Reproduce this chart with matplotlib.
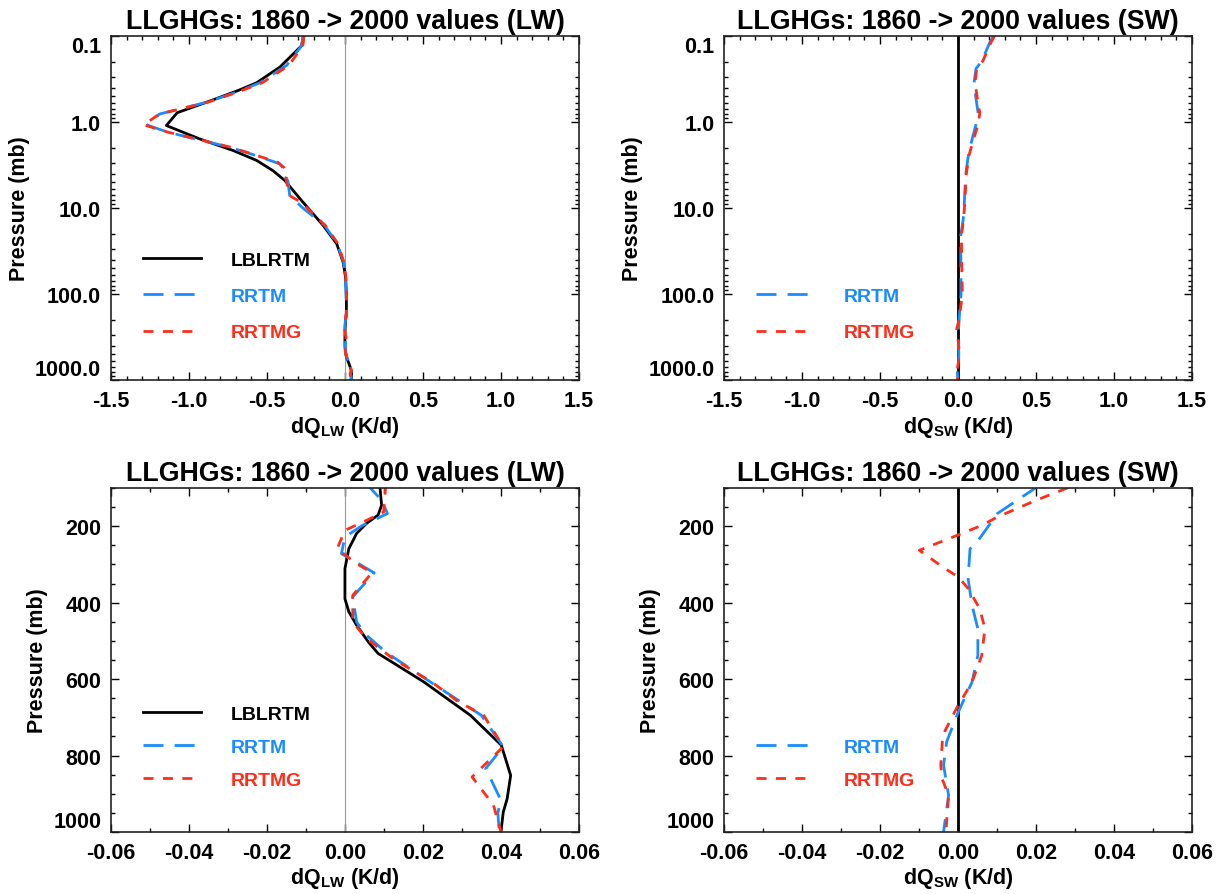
import matplotlib
matplotlib.use('Agg')
import matplotlib.pyplot as plt
from matplotlib.ticker import LogLocator, MultipleLocator, NullFormatter

plt.rcParams['font.family'] = ['Liberation Sans', 'DejaVu Sans']
plt.rcParams['font.weight'] = 'bold'
plt.rcParams['axes.titleweight'] = 'bold'
plt.rcParams['axes.labelweight'] = 'bold'
plt.rcParams['mathtext.fontset'] = 'custom'
plt.rcParams['mathtext.rm'] = 'Liberation Sans'

# longwave heating rate change (K/d) vs pressure (mb)
p_lbl_lw = [0.1, 0.13, 0.23, 0.35, 0.43, 0.57, 0.78, 1.1, 1.58, 2.15, 2.8, 3.7, 4.8, 8.2, 16, 26, 43, 64,
            100, 145, 171, 193, 219, 259, 311, 390, 424, 459, 503, 533, 564, 608, 695, 773, 852, 913, 948, 1000]
dq_lbl_lw = [-0.267, -0.278, -0.417, -0.566, -0.684, -0.865, -1.075, -1.145, -0.929, -0.716, -0.566, -0.46,
             -0.385, -0.278, -0.139, -0.053, -0.011, 0.004, 0.009, 0.0094, 0.0085, 0.0055, 0.003, 0.001, 0.0,
             0.0, 0.001, 0.003, 0.006, 0.0085, 0.0134, 0.0203, 0.0322, 0.0401, 0.0425, 0.0416, 0.0406, 0.040]

p_rrtm_lw = [0.1, 0.13, 0.22, 0.35, 0.45, 0.59, 0.81, 1.09, 1.32, 1.97, 2.47, 3.07, 3.6, 4.2, 4.8, 7.2, 10, 16,
             26, 43, 64, 100, 132, 167, 198, 228, 272, 322, 385, 451, 485, 529, 590, 643, 695, 777, 834, 917,
             950, 1000]
dq_rrtm_lw = [-0.267, -0.278, -0.374, -0.545, -0.694, -0.887, -1.19, -1.266, -1.132, -0.737, -0.566, -0.417,
              -0.39, -0.4, -0.366, -0.354, -0.27, -0.13, -0.05, -0.008, 0.005, 0.0065, 0.0094, 0.0109, 0.0045,
              0.0, -0.0009, 0.0075, 0.002, 0.003, 0.0055, 0.0104, 0.0193, 0.0272, 0.035, 0.0406, 0.0361,
              0.040, 0.0392, 0.0396]

p_rrtmg_lw = [0.1, 0.13, 0.22, 0.35, 0.45, 0.59, 0.81, 1.08, 1.32, 1.97, 2.47, 2.95, 3.4, 3.9, 4.6, 7.2, 8.6,
              16, 26, 43, 64, 100, 163, 185, 211, 259, 298, 322, 381, 451, 494, 547, 608, 660, 695, 777, 856,
              930, 1000]
dq_rrtmg_lw = [-0.262, -0.27, -0.36, -0.53, -0.69, -0.88, -1.19, -1.29, -1.13, -0.73, -0.56, -0.43, -0.39,
               -0.37, -0.378, -0.354, -0.28, -0.125, -0.045, -0.006, 0.006, 0.0104, 0.0099, 0.0055, 0.0,
               -0.002, 0.003, 0.0069, 0.002, 0.002, 0.0055, 0.0124, 0.0223, 0.0292, 0.0356, 0.0406, 0.0326,
               0.0381, 0.040]

# shortwave heating rate change (K/d)
p_rrtm_sw = [0.1, 0.12, 0.195, 0.24, 0.35, 0.54, 0.78, 1.06, 1.58, 2.48, 4.2, 8.6, 13.4, 21, 56, 100, 167,
             246, 259, 337, 407, 468, 538, 608, 686, 764, 825, 904, 1000]
dq_rrtm_sw = [0.228, 0.203, 0.153, 0.116, 0.103, 0.116, 0.129, 0.116, 0.091, 0.066, 0.049, 0.041, 0.034,
              0.018, 0.019, 0.0199, 0.0101, 0.0046, 0.0031, 0.0026, 0.0036, 0.0051, 0.0051, 0.0036, 0.0001,
              -0.0029, -0.0037, -0.0024, -0.0037]

p_rrtmg_sw = [0.1, 0.12, 0.195, 0.24, 0.35, 0.54, 0.78, 1.06, 1.58, 2.48, 4.2, 8.6, 13.4, 21, 56, 100, 132,
              176, 198, 231, 263, 307, 333, 363, 416, 468, 538, 608, 677, 747, 825, 860, 904, 1000]
dq_rrtmg_sw = [0.235, 0.21, 0.16, 0.12, 0.11, 0.125, 0.14, 0.13, 0.1, 0.07, 0.052, 0.044, 0.036, 0.022,
               0.025, 0.0281, 0.0201, 0.0101, 0.0061, -0.0019, -0.0099, -0.0039, 0.0001, 0.0026, 0.0056,
               0.0069, 0.0061, 0.0036, -0.0004, -0.0039, -0.0044, -0.0041, -0.0024, -0.0031]

BLUE = '#1a8cff'
RED = '#ff2d1a'
LW = 2.0
DASH_LONG = (7.2, 4.0)
DASH_SHORT = (3.6, 3.4)

fig = plt.figure(figsize=(12.18, 8.95), dpi=100)
pos_x = [0.0911, 0.5944]
pos_y = [0.5743, 0.0693]
axes = [[fig.add_axes([x, y, 0.3842, 0.3844]) for x in pos_x] for y in pos_y]


def style(ax, band, zoomed):
    ax.tick_params(which='both', direction='in', top=True, right=True, labelsize=15.5, width=1.0)
    ax.tick_params(which='major', length=5.5, pad=7)
    ax.tick_params(which='minor', length=3)
    for s in ax.spines.values():
        s.set_linewidth(1.2)
        s.set_color('#222222')
    if zoomed:
        ax.set_xlim(-0.06, 0.06)
        ax.set_xticks([-0.06, -0.04, -0.02, 0.0, 0.02, 0.04, 0.06],
                      ['-0.06', '-0.04', '-0.02', '0.00', '0.02', '0.04', '0.06'])
        ax.xaxis.set_minor_locator(MultipleLocator(0.01))
        ax.set_ylim(1000, 100)
        ax.set_yticks([200, 400, 600, 800, 1000], ['200', '400', '600', '800', '1000'])
        ax.yaxis.set_minor_locator(MultipleLocator(50))
        ax.get_yticklabels()[-1].set_va('bottom')
        leg_y, leg_sp = 0.126, 0.78
    else:
        ax.set_xlim(-1.5, 1.5)
        ax.set_xticks([-1.5, -1.0, -0.5, 0.0, 0.5, 1.0, 1.5],
                      ['-1.5', '-1.0', '-0.5', '0.0', '0.5', '1.0', '1.5'])
        ax.xaxis.set_minor_locator(MultipleLocator(0.1))
        ax.set_yscale('log')
        ax.set_ylim(1000, 0.1)
        ax.set_yticks([0.1, 1, 10, 100, 1000], ['0.1', '1.0', '10.0', '100.0', '1000.0'])
        ax.yaxis.set_minor_locator(LogLocator(base=10, subs=range(2, 10)))
        ax.yaxis.set_minor_formatter(NullFormatter())
        labs = ax.get_yticklabels()
        labs[0].set_va('top')
        labs[-1].set_va('bottom')
        leg_y, leg_sp = 0.112, 0.97
    ax.set_title('LLGHGs: 1860 -> 2000 values (%s)' % band, fontsize=19.3, pad=6)
    ax.set_ylabel('Pressure (mb)', fontsize=15.5, labelpad=4)
    ax.set_xlabel(r'dQ$_{\rm %s}$ (K/d)' % band, fontsize=15.5, labelpad=2)
    ax.legend(loc='lower left', bbox_to_anchor=(0.068, leg_y), frameon=False, fontsize=14,
              handlelength=3.0, handletextpad=1.5, labelspacing=leg_sp, borderpad=0, borderaxespad=0,
              labelcolor='linecolor')


for row, zoomed in enumerate([False, True]):
    ax = axes[row][0]
    ax.axvline(0, color='#999999', lw=0.8)
    ax.plot(dq_lbl_lw, p_lbl_lw, color='black', lw=LW, label='LBLRTM')
    ax.plot(dq_rrtm_lw, p_rrtm_lw, color=BLUE, lw=LW, dashes=DASH_LONG, label='RRTM')
    ax.plot(dq_rrtmg_lw, p_rrtmg_lw, color=RED, lw=LW, dashes=DASH_SHORT, label='RRTMG')
    style(ax, 'LW', zoomed)

    ax = axes[row][1]
    ax.axvline(0, color='black', lw=LW)
    ax.plot(dq_rrtm_sw, p_rrtm_sw, color=BLUE, lw=LW, dashes=DASH_LONG, label='RRTM')
    ax.plot(dq_rrtmg_sw, p_rrtmg_sw, color=RED, lw=LW, dashes=DASH_SHORT, label='RRTMG')
    style(ax, 'SW', zoomed)

fig.savefig('out.png', dpi=100)
